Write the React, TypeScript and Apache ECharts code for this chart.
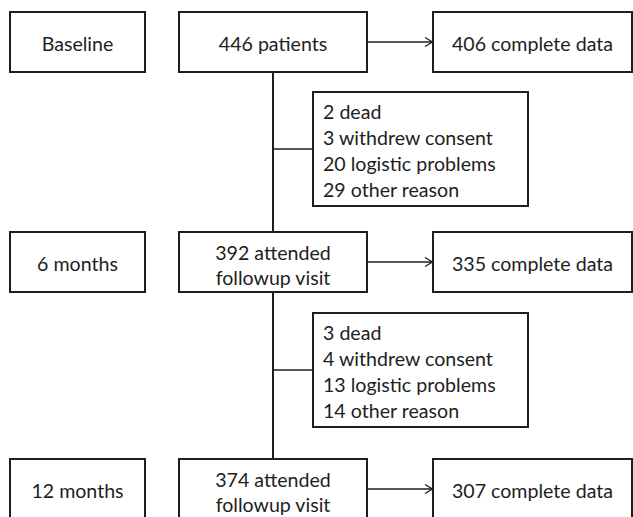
import React, { useEffect, useRef } from "react";
import * as echarts from "echarts";

const timepoints = ["Baseline", "6 months", "12 months"];
const attended = [["446 patients"], ["392 attended", "followup visit"], ["374 attended", "followup visit"]];
const complete = ["406 complete data", "335 complete data", "307 complete data"];
const lossReasons = [
  ["2 dead", "3 withdrew consent", "20 logistic problems", "29 other reason"],
  ["3 dead", "4 withdrew consent", "13 logistic problems", "14 other reason"],
];

const INK = "#1e1e1e";
const FONT = "Lato, 'Noto Sans', sans-serif";
const FS = 19.6;

export default function App() {
  const ref = useRef<HTMLDivElement>(null);
  useEffect(() => {
    if (!ref.current) return;
    const chart = echarts.init(ref.current, undefined, { renderer: "svg" });
    const rowTop = [12, 232, 459];
    const boxH = 60;
    const leftX = 10, leftW = 135;
    const midX = 179, midW = 188;
    const rightX = 433, rightW = 199;
    const trunkX = 273;
    const reasonTop = [92, 313];
    const reasonX = 313, reasonW = 215, reasonH = 114;
    const lineGap = 26;

    const els: any[] = [];
    const rect = (x: number, y: number, w: number, h: number) =>
      els.push({ type: "rect", shape: { x, y, width: w, height: h }, style: { fill: "#fff", stroke: INK, lineWidth: 2 } });
    const line = (x1: number, y1: number, x2: number, y2: number, lw = 2) =>
      els.push({ type: "line", shape: { x1, y1, x2, y2 }, style: { stroke: INK, lineWidth: lw } });
    const text = (t: string, x: number, y: number, align: string) =>
      els.push({
        type: "text",
        style: {
          text: t, x, y, fill: INK, fontSize: FS, fontFamily: FONT,
          textAlign: align, textVerticalAlign: "middle", align, verticalAlign: "middle",
        },
      });

    // trunk
    line(trunkX, rowTop[0] + boxH, trunkX, rowTop[1]);
    line(trunkX, rowTop[1] + boxH, trunkX, rowTop[2]);

    timepoints.forEach((tp, i) => {
      const top = rowTop[i];
      rect(leftX, top, leftW, boxH);
      text(tp, leftX + leftW / 2, top + 31, "center");
      rect(midX, top, midW, boxH);
      const lines = attended[i];
      if (lines.length === 1) text(lines[0], midX + midW / 2, top + 31, "center");
      else lines.forEach((l, j) => text(l, midX + midW / 2, top + 20.5 + j * 25, "center"));
      rect(rightX, top, rightW, boxH);
      text(complete[i], rightX + rightW / 2, top + 31, "center");
      // arrow
      const ay = top + 30;
      line(midX + midW, ay, rightX, ay, 1.5);
      els.push({
        type: "polyline",
        shape: { points: [[rightX - 8, ay - 4.5], [rightX - 0.5, ay], [rightX - 8, ay + 4.5]] },
        style: { stroke: INK, lineWidth: 1.3, fill: null },
      });
    });

    lossReasons.forEach((rs, i) => {
      const top = reasonTop[i];
      line(trunkX, top + reasonH / 2, reasonX, top + reasonH / 2, 1.6);
      rect(reasonX, top, reasonW, reasonH);
      rs.forEach((r, j) => text(r, reasonX + 10, top + 19 + j * lineGap, "left"));
    });

    chart.setOption({ animation: false, backgroundColor: "#fff", graphic: { elements: els } });
    return () => chart.dispose();
  }, []);
  return <div ref={ref} style={{ position: "fixed", left: 0, top: 0, width: 633, height: 517 }} />;
}
